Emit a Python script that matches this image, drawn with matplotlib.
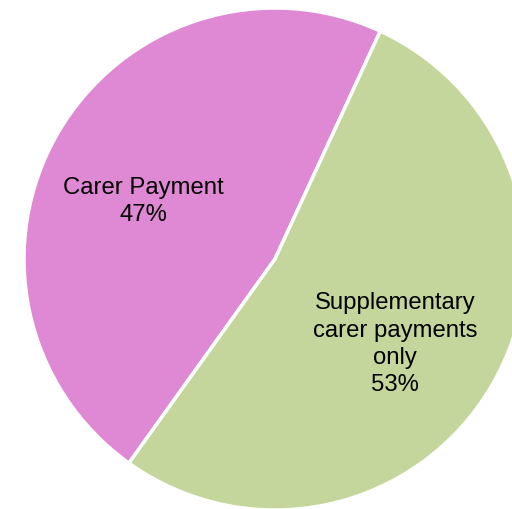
import matplotlib
matplotlib.use("Agg")
import matplotlib.pyplot as plt
import numpy as np

categories = ["Carer Payment", "Supplementary\ncarer payments\nonly"]
values = [47, 53]
colors = ["#DF88D3", "#C4D69B"]

W, H = 512, 509
fig = plt.figure(figsize=(W / 100, H / 100), dpi=100)
cx, cy, r = 275, 259, 251
ax = fig.add_axes([(cx - r) / W, (H - cy - r) / H, 2 * r / W, 2 * r / H])
ax.set_xlim(-1, 1)
ax.set_ylim(-1, 1)
ax.axis("off")

start = 65.2
wedges, _ = ax.pie(values, colors=colors, startangle=start, counterclock=True,
                   radius=1, wedgeprops=dict(edgecolor="white", linewidth=2.5),
                   frame=False)
ax.set_xlim(-1, 1)
ax.set_ylim(-1, 1)
for w in wedges:
    w.set_clip_on(False)

label_pos = [(-0.526, 0.228), (0.478, -0.339)]
for cat, v, (x, y) in zip(categories, values, label_pos):
    ax.text(x, y, f"{cat}\n{v}%", ha="center", va="center", fontsize=17.2,
            family="Liberation Sans", linespacing=1.3, color="black")

fig.savefig("out.png", dpi=100)
